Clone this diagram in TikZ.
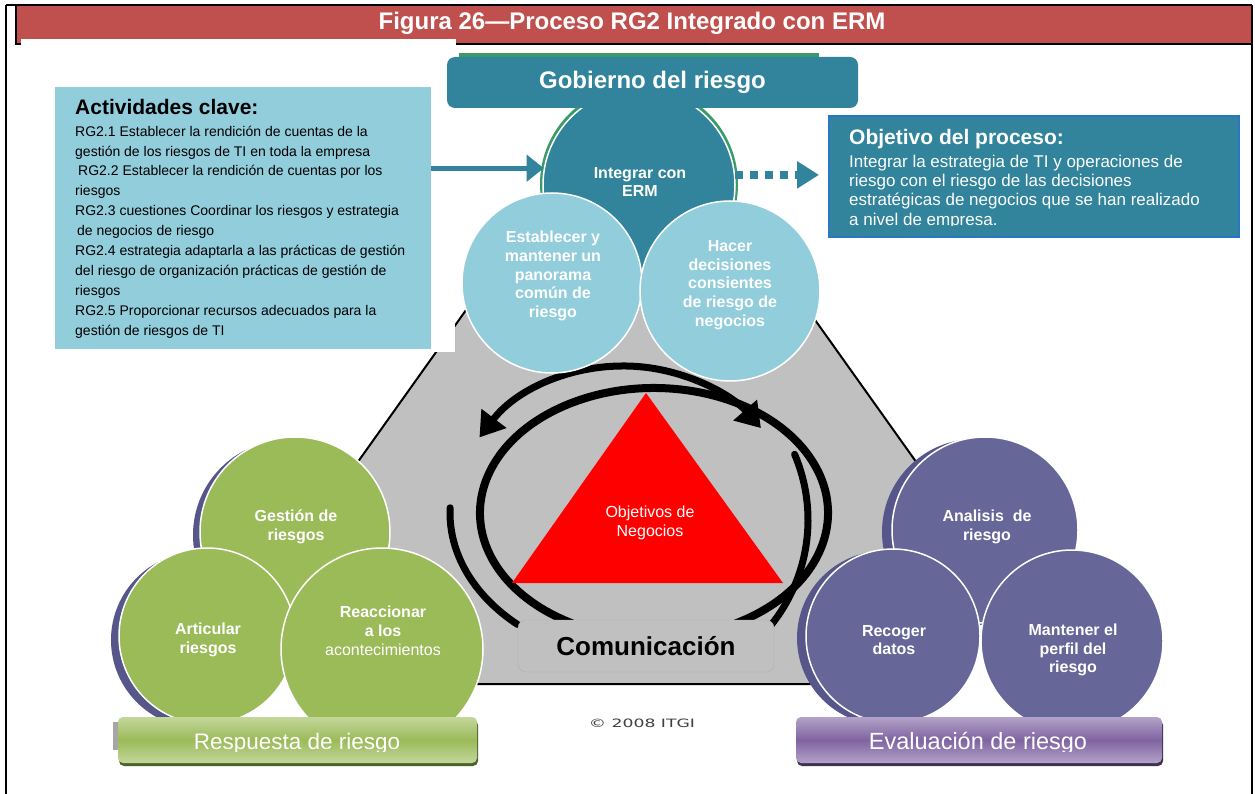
\documentclass[tikz,border=0pt]{standalone}
\usepackage{fontspec}
\setmainfont{Liberation Sans}
\newfontfamily\copyfont[FakeStretch=1.5]{DejaVu Sans}
\usetikzlibrary{arrows.meta,shadows}

\definecolor{bandred}{HTML}{C0504D}
\definecolor{tealdark}{HTML}{31849B}
\definecolor{tealight}{HTML}{92CDDC}
\definecolor{gobgreen}{HTML}{3A9A68}
\definecolor{leafgreen}{HTML}{9BBB59}
\definecolor{plum}{HTML}{666699}
\definecolor{plumdark}{HTML}{56568A}
\definecolor{greyfill}{HTML}{C0C0C0}
\definecolor{greyedge}{HTML}{B0B0B0}
\definecolor{boxblue}{HTML}{2A76C6}
\definecolor{barverdeclaro}{HTML}{C3D69B}
\definecolor{barverdeosc}{HTML}{4F6228}
\definecolor{barmorado}{HTML}{8064A2}
\definecolor{barmoradoclaro}{HTML}{B3A2C7}
\definecolor{barmoradoosc}{HTML}{3F3151}
\definecolor{copygris}{HTML}{404040}

\tikzset{
  circulo/.style={circle, draw=white, line width=1.5pt, inner sep=0pt},
  texto/.style={text=white, align=center, inner sep=0pt, font=\bfseries\fontsize{16}{18.8}\selectfont},
  barra/.style={rounded corners=5pt, draw=none, minimum height=46pt, inner sep=0pt},
  flecha/.style={draw=tealdark, line width=5pt, -{Triangle[length=17pt,width=26pt]}},
  punteada/.style={draw=tealdark, line width=8pt, dash pattern=on 8pt off 7pt, -{Triangle[length=22pt,width=26pt]}},
  anillo/.style={draw=black, line width=8pt}
}

\begin{document}
\begin{tikzpicture}[x=1pt, y=-1pt]
	\useasboundingbox (0,0) rectangle (1255,794);
	\fill[white] (0,0) rectangle (1255,794);
	
	% marco y titulo
	\fill[bandred] (16,6) rectangle (1252,44);
	\draw[line width=1.5pt] (6,5) -- (1252,5);
	\draw[line width=1.5pt] (6,5) -- (6,794);
	\draw[line width=1.5pt] (1252,5) -- (1252,794);
	\draw[line width=2pt] (16,5) -- (16,44) -- (1252,44);
	\fill[white] (21,39) rectangle (456,48);
	\node[font=\bfseries\fontsize{24}{27}\selectfont, text=white, anchor=base, inner sep=0pt] (titulo) at (632,30) {Figura 26—Proceso RG2 Integrado con ERM};
	
	% fondo gris
	\filldraw[fill=greyfill, draw=black, line width=2pt] (637,70) -- (986,560) -- (880,684) -- (390,684) -- (288,560) -- cycle;
	\fill[white] (431,300) rectangle (455,352);
	
	% anillos
	\coordinate (centro) at (654,513);
	\coordinate (centro2) at (640,520);
	\coordinate (centro3) at (624,548);
	\draw[anillo] ([shift={(62:174 and 125)}]centro) arc[start angle=62, end angle=-242, x radius=174, y radius=125];
	\draw[anillo, line width=7pt, line cap=round] ([shift={(-178:204 and 150)}]centro) arc[start angle=-178, end angle=-228, x radius=204, y radius=150];
	\draw[anillo, line width=7pt, line cap=round] ([shift={(-23:168)}]centro2) arc[start angle=-23, end angle=39, radius=168];
	\draw[line width=7pt, {Triangle[length=24pt,width=30pt]}-{Triangle[length=24pt,width=30pt]}] ([shift={(-142.6:182)}]centro3) arc[start angle=-142.6, end angle=-41.2, radius=182];
	
	% objetivos
	\fill[red] (646,393) -- (512,583) -- (783,583) -- cycle;
	\node[text=white, align=center, inner sep=0pt, font=\fontsize{16}{19}\selectfont] (negocios) at (650,523) {Objetivos de\\Negocios};
	\node[draw=greyedge, fill=greyfill, rounded corners=8pt, minimum width=256pt, minimum height=52pt, font=\bfseries\fontsize{26}{30}\selectfont] (comun) at (646,646) {Comunicación};
	
	% gobierno del riesgo
	\fill[gobgreen] (639,184) circle[radius=99];
	\node[circulo, fill=tealdark, minimum size=192pt] (integ) at (639,185) {};
	\node[circulo, fill=tealight, minimum size=180pt] (estab) at (552,283) {};
	\node[circulo, fill=tealight, minimum size=180pt] (hacer) at (730,291) {};
	\fill[gobgreen] (459,53) rectangle (819,62);
	\node[fill=tealdark, rounded corners=8pt, minimum width=411pt, minimum height=51pt, text=white, font=\bfseries\fontsize{24}{28}\selectfont] (gob) at (652.5,82.5) {Gobierno del riesgo};
	\node[texto] (integ-t) at (640,182) {Integrar con\\ERM};
	\node[texto] (estab-t) at (553,276) {Establecer y\\mantener un\\panorama\\común de\\riesgo};
	\node[texto] (hacer-t) at (730,285) {Hacer\\decisiones\\consientes\\de riesgo de\\negocios};
	
	% actividades clave
	\node[fill=tealight, minimum width=376pt, minimum height=262pt, anchor=north west, inner sep=0pt] (act) at (55,87) {};
	\node[anchor=base west, inner sep=0pt, font=\bfseries\fontsize{21}{24}\selectfont] (act-titulo) at (75,115) {Actividades clave:};
	\node[anchor=north west, inner sep=0pt, align=left, font=\fontsize{14}{19.9}\selectfont] (act-texto) at (75,122) {\strut RG2.1 Establecer la rendición de cuentas de la\\gestión de los riesgos de TI en toda la empresa\\\hspace*{3pt}RG2.2 Establecer la rendición de cuentas por los\\riesgos\\RG2.3 cuestiones Coordinar los riesgos y estrategia\\\hspace*{2pt}de negocios de riesgo\\RG2.4 estrategia adaptarla a las prácticas de gestión\\del riesgo de organización prácticas de gestión de\\riesgos\\RG2.5 Proporcionar recursos adecuados para la\\gestión de riesgos de TI};
	
	% objetivo del proceso
	\node[fill=tealdark, draw=boxblue, line width=2pt, minimum width=410pt, minimum height=121pt, anchor=north west, inner sep=0pt] (obj) at (828,115) {};
	\node[anchor=base west, text=white, inner sep=0pt, font=\bfseries\fontsize{21}{25}\selectfont] (obj-titulo) at (849,145) {Objetivo del proceso:};
	\begin{scope}
		\clip (830,150) rectangle (1236,226);
		\node[anchor=north west, align=left, text=white, inner sep=0pt, font=\fontsize{17}{19.3}\selectfont] (obj-texto) at (849,153.5) {\strut Integrar la estrategia de TI y operaciones de\\riesgo con el riesgo de las decisiones\\estratégicas de negocios que se han realizado\\a nivel de empresa.};
	\end{scope}
	
	\draw[flecha] (act.east |- integ.170) -- (integ.170);
	\draw[punteada] (integ.6) -- ([xshift=-9pt]obj.west |- integ.6);
	
	% respuesta de riesgo
	\fill[plumdark] (288,535) circle[radius=95];
	\fill[plumdark] (199,640) circle[radius=88];
	\node[circulo, fill=leafgreen, minimum size=190pt] (gest) at (295,532) {};
	\node[circulo, fill=leafgreen, minimum size=176pt] (artic) at (207,636) {};
	\node[circulo, fill=leafgreen, minimum size=202pt] (reac) at (382,649) {};
	\node[texto] (gest-t) at (296,527) {Gestión de\\riesgos};
	\node[texto] (artic-t) at (208,640) {Articular\\riesgos};
	\node[texto] (reac-t) at (383,631) {Reaccionar\\a los\\{\mdseries acontecimientos}};
	
	% evaluacion de riesgo
	\fill[plumdark] (975,532) circle[radius=93];
	\fill[plumdark] (884,638) circle[radius=87];
	\node[circulo, fill=plum, minimum size=186pt] (anal) at (985,530) {};
	\node[circulo, fill=plum, minimum size=174pt] (recog) at (893,636) {};
	\node[circulo, fill=plum, minimum size=182pt] (mant) at (1072,641) {};
	\node[texto] (anal-t) at (987,527) {Analisis\ \ de\\riesgo};
	\node[texto] (recog-t) at (894,640) {Recoger\\datos};
	\node[texto] (mant-t) at (1073,650) {Mantener el\\perfil del\\riesgo};
	
	% barras
	\fill[gray!70] (113,722) rectangle (119,750);
	\node[barra, top color=barverdeclaro, bottom color=barverdeclaro, middle color=leafgreen, minimum width=359pt, drop shadow={shadow xshift=1pt, shadow yshift=-3pt, fill=barverdeosc, opacity=1}] (resp) at (297.5,740) {};
	\node[barra, top color=barmoradoclaro, bottom color=barmoradoclaro, middle color=barmorado, minimum width=366pt, drop shadow={shadow xshift=1pt, shadow yshift=-3pt, fill=barmoradoosc, opacity=1}] (eval) at (979,740) {};
	\begin{scope}
		\clip (100,700) rectangle (1200,751);
		\node[anchor=base, text=white, inner sep=0pt, font=\fontsize{22.5}{26}\selectfont] (resp-t) at (297,749) {Respuesta de riesgo};
		\node[anchor=base, text=white, inner sep=0pt, font=\fontsize{23.5}{27}\selectfont] (eval-t) at (978,749) {Evaluación de riesgo};
	\end{scope}
	
	\node[anchor=base, inner sep=0pt, text=copygris, font=\copyfont\fontsize{11.5}{14}\selectfont] (copy) at (642,727) {© 2008 ITGI};
\end{tikzpicture}
\end{document}
